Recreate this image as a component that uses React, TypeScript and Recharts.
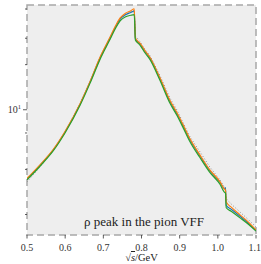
import { LineChart, Line, XAxis, YAxis, ReferenceArea } from 'recharts';

// sqrt(s) in GeV
const sqrtS = [
  0.5, 0.534, 0.569, 0.6, 0.639, 0.665, 0.691, 0.717, 0.731, 0.744, 0.757, 0.772, 0.781,
  0.784, 0.787, 0.796, 0.809, 0.822, 0.848, 0.875, 0.893, 0.909, 0.927, 0.953, 0.979,
  1.006, 1.017, 1.02, 1.022, 1.035, 1.058, 1.08, 1.1,
];

const orange = [
  3.48, 4.29, 5.44, 7.18, 10.97, 15.4, 22.3, 30.3, 35.9, 41.0, 43.9, 45.8, 47.2,
  30.3, 29.3, 27.8, 24.8, 22.4, 16.4, 11.5, 9.55, 7.94, 6.4, 5.0, 3.97,
  3.3, 2.96, 2.91, 2.42, 2.24, 1.99, 1.78, 1.58,
];

const blue = [
  3.45, 4.26, 5.41, 7.14, 10.9, 15.3, 22.1, 30.0, 35.4, 40.2, 42.9, 44.6, 45.6,
  29.8, 29.0, 27.5, 24.5, 22.2, 16.2, 11.3, 9.4, 7.82, 6.3, 4.93, 3.92,
  3.27, 2.98, 3.02, 2.3, 2.17, 1.95, 1.75, 1.56,
];

const green = [
  3.41, 4.2, 5.33, 7.03, 10.7, 15.0, 21.6, 29.3, 34.6, 39.2, 41.6, 42.7, 43.1,
  29.2, 28.5, 27.0, 24.0, 21.7, 15.8, 11.0, 9.15, 7.6, 6.12, 4.8, 3.82,
  3.17, 2.82, 2.78, 2.22, 2.1, 1.9, 1.72, 1.55,
];

const measured = [
  3.3, 4.15, 5.35, 7.1, 11.0, 15.2, 21.8, 29.5, 35.2, 40.0, 43.0, 45.0, 46.0,
  31.0, 30.5, 28.5, 25.3, 23.0, 17.0, 11.9, 9.95, 8.2, 6.6, 5.25, 4.15,
  3.4, 3.05, 3.0, 2.55, 2.35, 2.08, 1.85, 1.65,
];

const xTicks = [0.5, 0.6, 0.7, 0.8, 0.9, 1.0, 1.1];
const yTicks = [2, 3, 4, 5, 6, 7, 8, 9, 10, 20, 30, 40, 50];
const yDomain = [1.46, 50];

const rows = sqrtS.map((s, i) => ({
  s,
  orange: orange[i],
  blue: blue[i],
  green: green[i],
  measured: measured[i],
}));

const SERIF = '"Liberation Serif", "DejaVu Serif", serif';

function LogTick(props: any) {
  const { x, y, payload } = props;
  const major = payload.value === 10;
  return (
    <g>
      <line x1={x} x2={x - (major ? 4 : 2)} y1={y} y2={y} stroke="#333" strokeWidth={0.8} />
      {major && (
        <text
          x={x - 6}
          y={y + 3.5}
          textAnchor="end"
          fontSize={10}
          fontFamily={SERIF}
          fill="#333"
        >
          10
          <tspan dy={-4} fontSize={6.5}>
            1
          </tspan>
        </text>
      )}
    </g>
  );
}

export default function App() {
  return (
    <div style={{ position: 'relative', width: 261, height: 264, fontFamily: SERIF }}>
      <style>{'body{margin:0}'}</style>
      <LineChart
        width={261}
        height={264}
        data={rows}
        margin={{ top: 5, right: 5, bottom: 0, left: 0 }}
      >
        <ReferenceArea
          x1={0.5}
          x2={1.1}
          y1={yDomain[0]}
          y2={yDomain[1]}
          fill="#eeeeee"
          fillOpacity={1}
          stroke="#a8a8a8"
          strokeWidth={1.5}
          strokeDasharray="7 4"
          ifOverflow="visible"
        />
        <XAxis
          dataKey="s"
          type="number"
          domain={[0.5, 1.1]}
          ticks={xTicks}
          allowDataOverflow
          height={29}
          axisLine={false}
          tickLine={{ stroke: '#333', strokeWidth: 0.8 }}
          tickSize={3.5}
          tickMargin={5}
          tickFormatter={(v: number) => v.toFixed(1)}
          tick={{ fontSize: 10, fill: '#333', fontFamily: SERIF }}
        />
        <YAxis
          type="number"
          scale="log"
          domain={yDomain}
          ticks={yTicks}
          allowDataOverflow
          width={27}
          axisLine={false}
          tickLine={false}
          tickSize={0}
          tickMargin={0}
          tick={<LogTick />}
        />
        <Line
          dataKey="measured"
          type="linear"
          stroke="#8c8c8c"
          strokeWidth={1}
          strokeDasharray="1 2"
          dot={false}
          isAnimationActive={false}
        />
        <Line
          dataKey="blue"
          type="monotone"
          stroke="#1f77b4"
          strokeWidth={1.2}
          dot={false}
          isAnimationActive={false}
        />
        <Line
          dataKey="orange"
          type="monotone"
          stroke="#ff7f0e"
          strokeWidth={1.2}
          dot={false}
          isAnimationActive={false}
        />
        <Line
          dataKey="green"
          type="monotone"
          stroke="#2ca02c"
          strokeWidth={1.2}
          dot={false}
          isAnimationActive={false}
        />
      </LineChart>
      <div
        style={{
          position: 'absolute',
          left: 27,
          width: 234,
          top: 214,
          textAlign: 'center',
          fontSize: 13,
          color: '#222',
          lineHeight: '15px',
        }}
      >
        ρ peak in the pion VFF
      </div>
      <div
        style={{
          position: 'absolute',
          left: 27,
          width: 229,
          top: 252,
          textAlign: 'center',
          fontSize: 10.5,
          color: '#222',
          lineHeight: '12px',
        }}
      >
        √<span style={{ textDecoration: 'overline', fontStyle: 'italic' }}>s</span>/GeV
      </div>
    </div>
  );
}
